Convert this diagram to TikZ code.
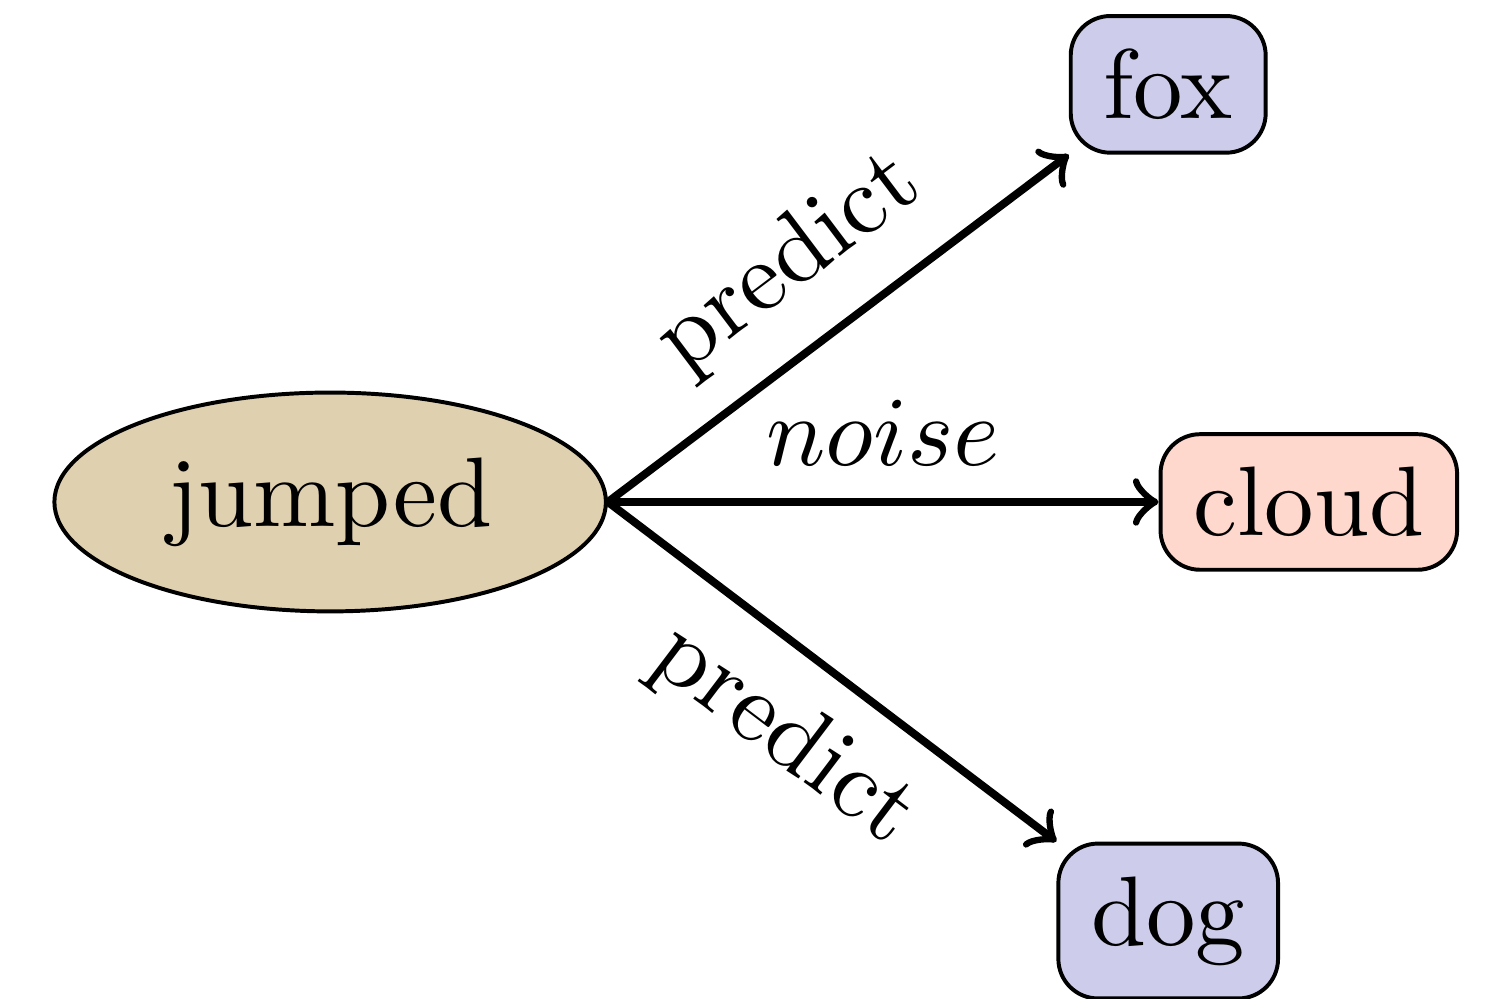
\documentclass[tikz,border=0pt]{standalone}
\usepackage{amsmath,amsfonts}
\usepackage{tikz}
\usetikzlibrary{shapes.geometric}

\definecolor{ctxfill}{RGB}{223,208,176}
\definecolor{posfill}{RGB}{205,205,235}
\definecolor{negfill}{RGB}{254,215,205}

\begin{document}
\begin{tikzpicture}[
    ctxword/.style = {draw, ellipse, fill=ctxfill},
    posword/.style = {draw, rounded corners, fill=posfill},
    negword/.style = {draw, rounded corners, fill=negfill}
  ]
  \useasboundingbox (-1.174,-1.765) rectangle (4.181,1.785);
  \node[ctxword] (jumped) at (0,0) {jumped};
  \node[posword] (fox) at (2.98,1.485) {fox};
  \node[negword] (cloud) at (3.48,0) {cloud};
  \node[posword] (dog) at (2.98,-1.49) {dog};
  \path[->, thick]
    (jumped.east) edge node[above, sloped] {predict} (fox.south west)
      edge node[above] {$noise$} (cloud.west)
      edge node[below, sloped] {predict} (dog.north west);
\end{tikzpicture}
\end{document}
